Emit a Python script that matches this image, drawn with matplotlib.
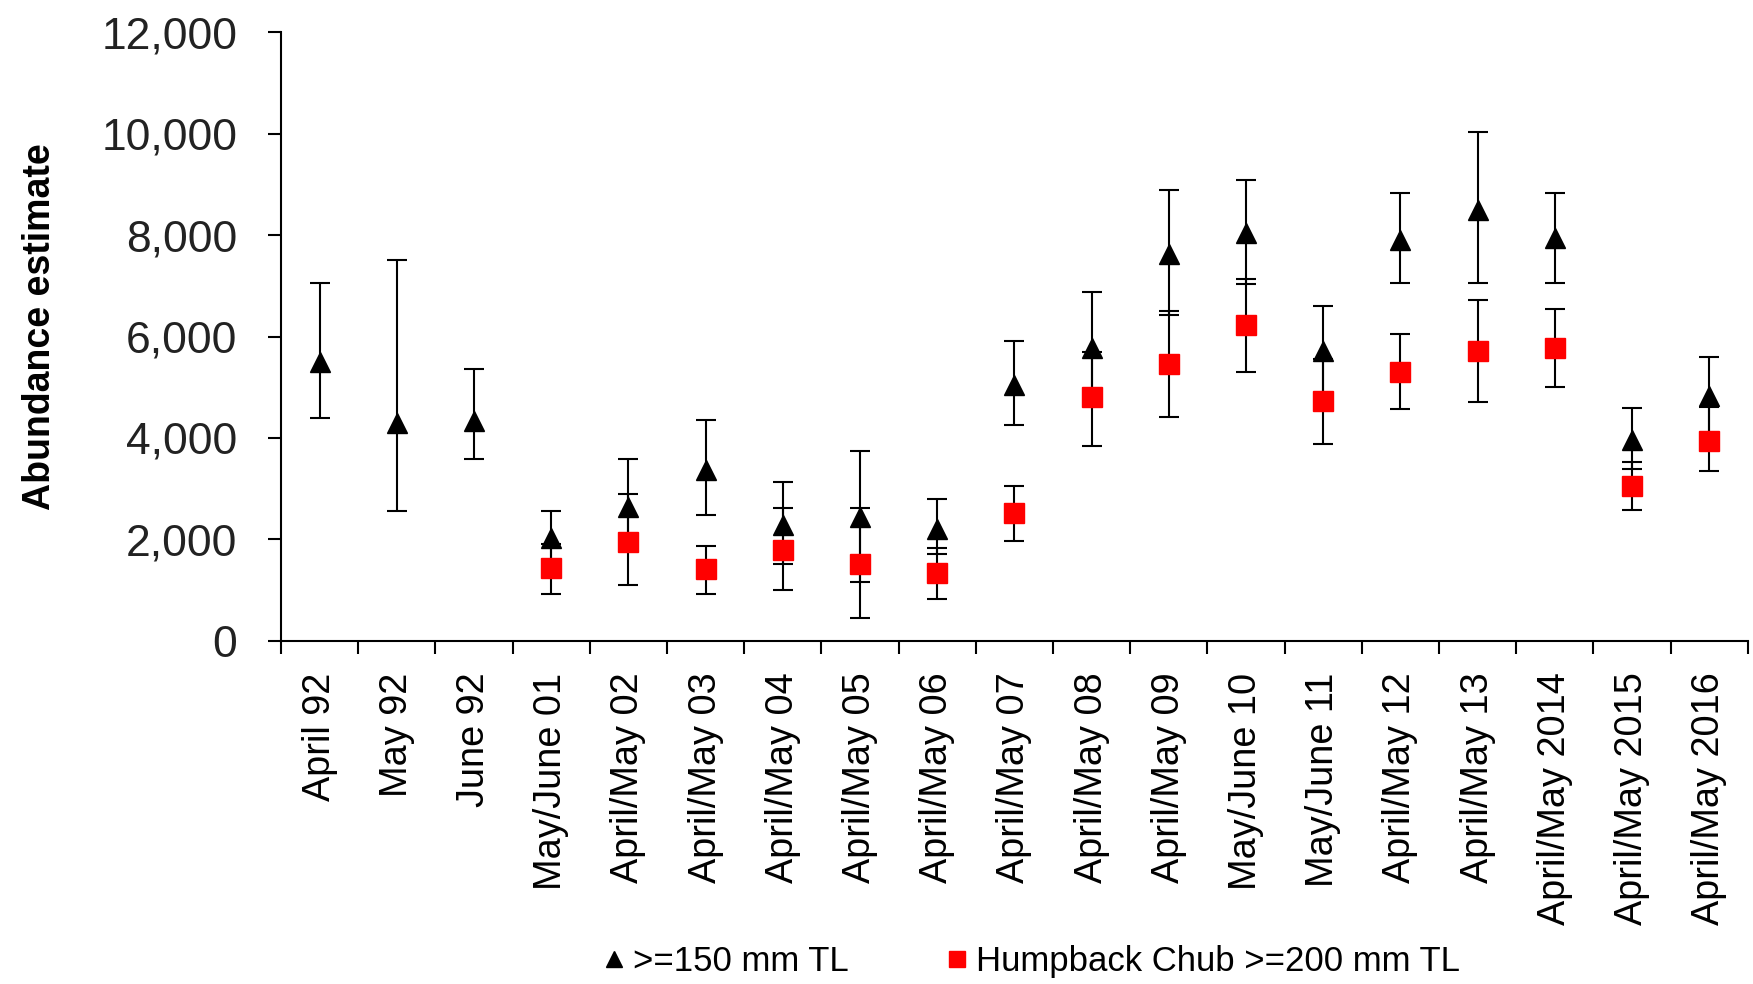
import numpy as np
import matplotlib
matplotlib.use("Agg")
import matplotlib.pyplot as plt
from matplotlib.lines import Line2D

labels = ["April 92", "May 92", "June 92", "May/June 01", "April/May 02",
          "April/May 03", "April/May 04", "April/May 05", "April/May 06",
          "April/May 07", "April/May 08", "April/May 09", "May/June 10",
          "May/June 11", "April/May 12", "April/May 13", "April/May 2014",
          "April/May 2015", "April/May 2016"]

# >=150 mm TL
est_150 = [5500, 4300, 4340, 2030, 2630, 3370, 2290, 2440, 2210, 5050,
           5770, 7620, 8050, 5710, 7900, 8500, 7940, 3960, 4830]
low_150 = [4390, 2560, 3590, 1550, 1800, 2475, 1510, 1150, 1710, 4260,
           4700, 6420, 7045, 4850, 7050, 7050, 7050, 3390, 4100]
high_150 = [7050, 7510, 5350, 2560, 3590, 4345, 3120, 3750, 2790, 5905,
            6880, 8885, 9080, 6600, 8835, 10030, 8835, 4590, 5600]

# Humpback Chub >=200 mm TL
est_200 = [np.nan, np.nan, np.nan, 1430, 1945, 1415, 1780, 1510, 1330, 2520,
           4810, 5455, 6235, 4725, 5305, 5710, 5765, 3060, 3940]
low_200 = [np.nan, np.nan, np.nan, 915, 1090, 915, 1000, 455, 820, 1970,
           3845, 4410, 5305, 3885, 4575, 4710, 4995, 2570, 3350]
high_200 = [np.nan, np.nan, np.nan, 1900, 2885, 1875, 2615, 2615, 1825, 3060,
            5700, 6510, 7145, 5550, 6050, 6730, 6550, 3520, 4600]

plt.rcParams["font.family"] = ["Liberation Sans", "DejaVu Sans"]

x = np.arange(len(labels))
e150 = np.array(est_150, dtype=float)
e200 = np.array(est_200, dtype=float)
err150 = [e150 - np.array(low_150), np.array(high_150) - e150]
err200 = [e200 - np.array(low_200), np.array(high_200) - e200]

fig = plt.figure(figsize=(17.53, 9.84), dpi=100)
ax = fig.add_axes([0.1603, 0.349, 0.8367, 0.618])

ax.errorbar(x, e150, yerr=err150, fmt="^", color="black", ms=14.5,
            ecolor="black", elinewidth=1.5, capsize=7, capthick=1.5, zorder=3)
ax.errorbar(x, e200, yerr=err200, fmt="s", color="#ff0000", ms=14,
            ecolor="black", elinewidth=1.5, capsize=7, capthick=1.5, zorder=4)

ax.set_xlim(-0.5, len(labels) - 0.5)
ax.set_ylim(0, 12000)
ax.set_yticks(range(0, 12001, 2000))
ax.set_yticklabels([f"{v:,}" for v in range(0, 12001, 2000)], fontsize=32, color="#222222")
ax.tick_params(axis="y", direction="out", length=9.5, width=1.5, pad=22)

ax.set_xticks(x)
ax.set_xticklabels(labels, rotation=90, fontsize=27.3, va="top", ha="center")
ax.set_xticks(np.arange(-0.5, len(labels), 1.0), minor=True)
ax.tick_params(axis="x", which="major", length=0, pad=23)
ax.tick_params(axis="x", which="minor", direction="out", length=9.5, width=1.5)

for s in ["top", "right"]:
    ax.spines[s].set_visible(False)
for s in ["left", "bottom"]:
    ax.spines[s].set_linewidth(1.5)

ax.set_ylabel("Abundance estimate", fontsize=27, fontweight="bold")
ax.yaxis.set_label_coords(-0.152, 0.516)

handles = [Line2D([], [], marker="^", color="black", ls="none", ms=12),
           Line2D([], [], marker="s", color="#ff0000", ls="none", ms=12)]
fig.legend(handles, [">=150 mm TL", "Humpback Chub >=200 mm TL"], loc="center",
           bbox_to_anchor=(0.588, 0.023), ncol=2, frameon=False,
           prop={"size": 25}, handlelength=0.7,
           handletextpad=0.2, columnspacing=2.75, borderpad=0)

fig.savefig("out.png", dpi=100)
